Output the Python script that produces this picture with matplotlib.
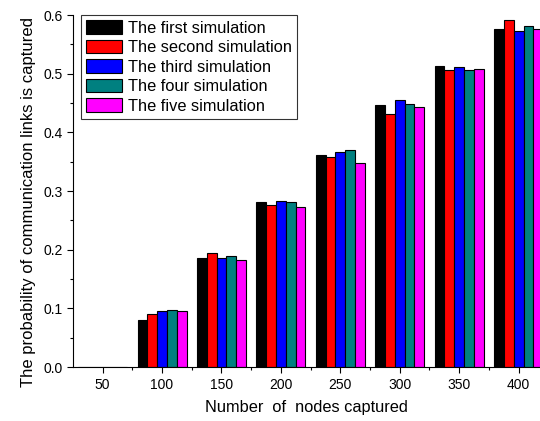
import numpy as np
import matplotlib.pyplot as plt
from matplotlib.ticker import MultipleLocator, FormatStrFormatter

plt.rcParams['font.family'] = ['Liberation Sans', 'DejaVu Sans']

nodes = [50, 100, 150, 200, 250, 300, 350, 400]
sim1 = [0.0, 0.080, 0.186, 0.281, 0.361, 0.446, 0.514, 0.577]
sim2 = [0.0, 0.090, 0.195, 0.277, 0.359, 0.431, 0.506, 0.591]
sim3 = [0.0, 0.095, 0.186, 0.283, 0.366, 0.456, 0.512, 0.573]
sim4 = [0.0, 0.098, 0.190, 0.282, 0.370, 0.449, 0.507, 0.581]
sim5 = [0.0, 0.096, 0.182, 0.273, 0.348, 0.443, 0.508, 0.577]
labels = ['The first simulation', 'The second simulation', 'The third simulation',
          'The four simulation', 'The five simulation']
colors = ['#000000', '#ff0000', '#0000ff', '#008080', '#ff00ff']

fig = plt.figure(figsize=(5.4, 4.21), dpi=100)
ax = fig.add_axes([0.135, 0.128, 0.865, 0.836])

x = np.array(nodes, dtype=float)
w = 8.25
for i, (vals, lab, c) in enumerate(zip([sim1, sim2, sim3, sim4, sim5], labels, colors)):
    ax.bar(x + (i - 2) * w, vals, width=w, color=c, edgecolor='black', linewidth=0.8, label=lab)

ax.set_xlim(25, 418)
ax.set_ylim(0, 0.6)
ax.set_xticks(nodes)
ax.set_xticks([75, 125, 175, 225, 275, 325, 375], minor=True)
ax.yaxis.set_major_locator(MultipleLocator(0.1))
ax.yaxis.set_minor_locator(MultipleLocator(0.05))
ax.yaxis.set_major_formatter(FormatStrFormatter('%.1f'))
ax.tick_params(axis='both', which='major', direction='out', length=4, labelsize=10, width=0.8)
ax.tick_params(axis='both', which='minor', direction='out', length=2.5, width=0.8)
for s in ['top', 'right']:
    ax.spines[s].set_visible(False)
ax.set_xlabel('Number  of  nodes captured', fontsize=11.8, labelpad=6)
ax.set_ylabel('The probability of communication links is captured', fontsize=12)
ax.yaxis.set_label_coords(-0.08, 0.469)

leg = ax.legend(loc='upper left', bbox_to_anchor=(0.017, 1.0), fontsize=11.8, frameon=True,
                fancybox=False, edgecolor='black', handlelength=2.2, handleheight=0.9,
                borderaxespad=0, labelspacing=0.25, handletextpad=0.4, borderpad=0.3)
leg.get_frame().set_linewidth(0.8)

plt.savefig('out.png', dpi=100)
